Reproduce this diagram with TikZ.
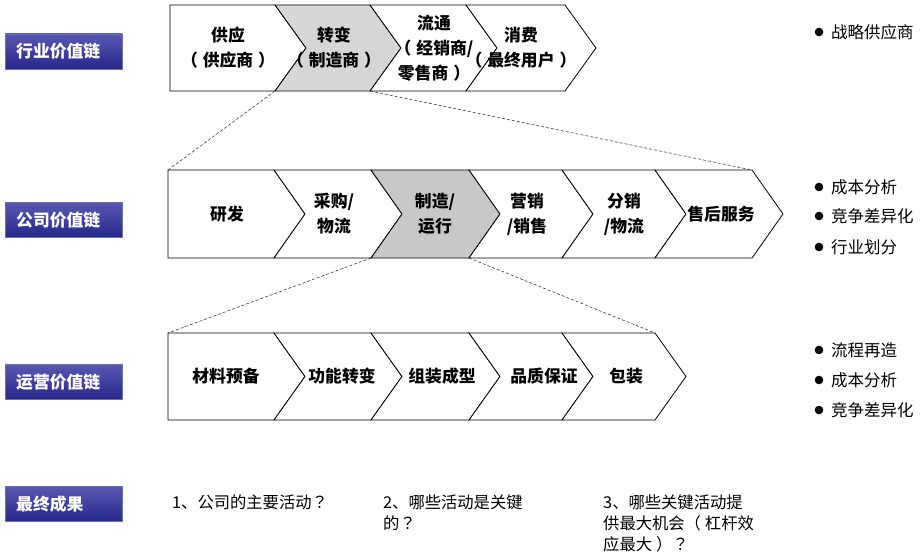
\documentclass[tikz,border=0pt]{standalone}
\usepackage{fontspec}
\setmainfont[Kerning=Off]{Noto Sans CJK SC}
\newfontfamily\tcfont[Kerning=Off]{Noto Sans CJK TC}
\newcommand\mylp{（\hspace{5pt}}
\newcommand\myrp{\hspace{5pt}）}
\newcommand\myqm{{\tcfont ？}}
\definecolor{lblue}{RGB}{38,38,140}
\definecolor{lbluetop}{RGB}{88,88,178}
\definecolor{lborder}{RGB}{110,110,180}
\definecolor{grayA}{RGB}{214,214,214}
\definecolor{grayB}{RGB}{200,200,200}
\tikzset{
  chevline/.style={draw=black, line width=0.8pt, line join=miter},
  chevtext/.style={inner sep=0pt, align=center, font=\fontsize{16.8}{25}\selectfont\bfseries},
  lbl/.style={draw=lborder, line width=0.5pt, top color=lbluetop, bottom color=lblue,
    minimum height=35pt, text width=95pt, inner xsep=11pt, inner ysep=0pt, align=left,
    text=white, font=\fontsize{16.8}{20}\selectfont\bfseries, anchor=west},
  bultext/.style={inner sep=0pt, anchor=west, font=\fontsize{16.5}{20}\selectfont},
  qtext/.style={inner sep=0pt, anchor=north west, align=left, font=\fontsize{16.3}{21}\selectfont},
  dashline/.style={draw=black!75, line width=0.6pt, dash pattern=on 3pt off 2pt}
}
% #1 name, #2 xl, #3 xr, #4 ytop, #5 ybot, #6 notch depth, #7 fill, #8 text, #9 text x
\newcommand\chv[9]{%
  \draw[chevline,fill=#7] (#2,#4) -- (#3,#4) -- ({#3+31},{(#4+#5)/2}) -- (#3,#5) -- (#2,#5) -- ({#2+#6},{(#4+#5)/2}) -- cycle;
  \coordinate (#1-tl) at (#2,#4);
  \coordinate (#1-tr) at (#3,#4);
  \coordinate (#1-bl) at (#2,#5);
  \coordinate (#1-br) at (#3,#5);
  \node[chevtext] (#1) at (#9,{(#4+#5)/2}) {#8};
}
\begin{document}
\begin{tikzpicture}[x=1pt,y=-1pt]
\useasboundingbox[fill=white] (0,0) rectangle (922,559);

% left labels
\node[lbl] (L1) at (5,51.5) {行业价值链};
\node[lbl] (L2) at (5,220) {公司价值链};
\node[lbl] (L3) at (5,382) {运营价值链};
\node[lbl] (L4) at (5,504) {最终成果};

% row 1
\chv{ra}{170}{275}{5}{91}{0}{white}{供应\\\mylp 供应商\myrp}{228}
\chv{rb}{275}{370}{5}{91}{31}{grayA}{转变\\\mylp 制造商\myrp}{334}
\chv{rc}{370}{466}{5}{91}{31}{white}{流通\\\mylp 经销商/\\零售商\myrp}{434}
\chv{rd}{466}{565}{5}{91}{31}{white}{消费\\\mylp 最终用户\myrp}{521}

% row 2
\chv{sa}{168}{274}{170}{258}{0}{white}{研发}{227}
\chv{sb}{274}{371}{170}{258}{31}{white}{采购/\\物流}{334}
\chv{sc}{371}{469}{170}{258}{31}{grayB}{制造/\\运行}{435}
\chv{sd}{469}{562}{170}{258}{31}{white}{营销\\/销售}{527}
\chv{se}{562}{655}{170}{258}{31}{white}{分销\\/物流}{624}
\chv{sf}{655}{752}{170}{258}{31}{white}{售后服务}{721}

% row 3
\chv{ta}{168}{274}{333}{420}{0}{white}{材料预备}{226}
\chv{tb}{274}{371}{333}{420}{31}{white}{功能转变}{342}
\chv{tc}{371}{469}{333}{420}{31}{white}{组装成型}{442}
\chv{td}{469}{562}{333}{420}{31}{white}{品质保证}{544}
\chv{te}{562}{655}{333}{420}{31}{white}{包装}{626}

% dashed connectors
\draw[dashline] (rb-bl) -- (sa-tl);
\draw[dashline] (rb-br) -- (sf-tr);
\draw[dashline] (sc-bl) -- (ta-tl);
\draw[dashline] (sc-br) -- (te-tr);

% bullets
\foreach \y/\t/\n in {32/战略供应商/b1, 187/成本分析/b2, 216/竞争差异化/b3, 247/行业划分/b4,
                      350/流程再造/b5, 380/成本分析/b6, 410/竞争差异化/b7}{
  \fill (819,\y) circle (4.3pt);
  \node[bultext] (\n) at (831,\y) {\t};
}

% bottom questions
\node[qtext] (q1) at (172,495) {1、公司的主要活动\myqm};
\node[qtext] (q2) at (383,495) {2、哪些活动是关键\\的\myqm};
\node[qtext] (q3) at (603,495) {3、哪些关键活动提\\供最大机会（\hspace{4pt}杠杆效\\应最大\hspace{4pt}）\myqm};
\end{tikzpicture}
\end{document}
